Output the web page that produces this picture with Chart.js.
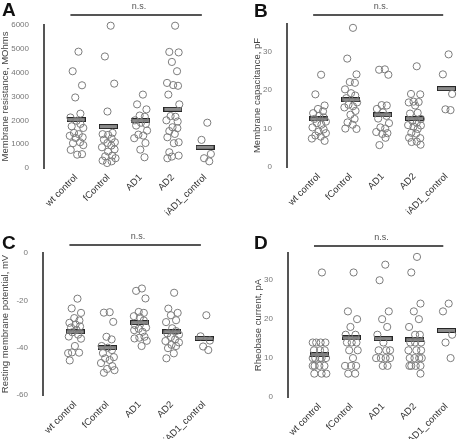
<!DOCTYPE html>
<html><head><meta charset="utf-8">
<script src="https://cdn.jsdelivr.net/npm/chart.js@4/dist/chart.umd.min.js"></script>
<style>
html,body{margin:0;padding:0;background:#fff;}
#wrap{position:relative;width:472px;height:439px;overflow:hidden;}
canvas{position:absolute;}
</style></head><body>
<div id="wrap">
<canvas id="cA" width="236" height="220" style="left:0;top:0"></canvas>
<canvas id="cB" width="236" height="220" style="left:236px;top:0"></canvas>
<canvas id="cC" width="236" height="219" style="left:0;top:220px"></canvas>
<canvas id="cD" width="236" height="219" style="left:236px;top:220px"></canvas>
</div>
<script>
const categories = ['wt control', 'fControl', 'AD1', 'AD2', 'iAD1_control'];

// A: membrane resistance (MOhms)
const resistance = [
  [4880, 4060, 3470, 2960, 2280, 2120, 1980, 1850, 1750, 1680, 1470, 1420, 1350, 1290, 1260, 1080, 1040, 960, 760, 580, 560],
  [5970, 4680, 3540, 2370, 1475, 1420, 1390, 1240, 1190, 1080, 1050, 940, 870, 780, 690, 520, 490, 410, 310, 280, 210],
  [3080, 2670, 2460, 2200, 2150, 2000, 1900, 1850, 1780, 1570, 1400, 1360, 1250, 1050, 770, 450],
  [5970, 4870, 4850, 4450, 4060, 3570, 3480, 3450, 3080, 2670, 2180, 2150, 2000, 1950, 1710, 1670, 1550, 1430, 1290, 1080, 1040, 660, 520, 480, 410],
  [1900, 1180, 590, 410, 280]
];
const resistanceMean = [2030, 1740, 1990, 2460, 870];

// B: membrane capacitance (pF)
const capacitance = [
  [24.0, 18.9, 16.0, 15.1, 14.5, 14.0, 13.3, 12.9, 12.5, 11.8, 11.4, 11.0, 10.3, 9.8, 9.2, 8.8, 8.2, 7.9, 7.4, 6.8],
  [36.2, 28.2, 24.1, 22.1, 21.9, 20.2, 19.2, 18.6, 17.9, 16.8, 16.2, 15.8, 15.5, 14.6, 13.6, 12.5, 11.6, 11.0, 10.0, 9.9],
  [25.4, 25.3, 24.0, 16.1, 16.0, 15.1, 14.2, 13.3, 12.6, 11.4, 10.3, 10.0, 9.1, 8.8, 8.6, 7.6, 5.7],
  [26.2, 19.0, 18.9, 17.0, 16.9, 16.8, 16.0, 14.1, 13.9, 12.5, 12.0, 11.5, 10.9, 10.8, 10.5, 9.9, 8.9, 8.7, 7.6, 7.5, 6.6, 6.5, 5.8],
  [29.3, 24.1, 19.0, 15.0, 14.8]
];
const capacitanceMean = [12.5, 17.5, 13.6, 12.6, 20.4];

// C: resting membrane potential (mV)
const potential = [
  [-19.3, -23.4, -25.3, -27.5, -28.5, -29.5, -30.2, -31.0, -31.5, -32.5, -33.5, -34.5, -35.3, -36.2, -39.3, -42.1, -42.0, -42.3, -45.4],
  [-25.0, -25.2, -29.1, -35.4, -36.5, -39.3, -40.0, -41.0, -42.3, -44.0, -44.5, -45.2, -46.5, -47.8, -49.0, -49.5, -50.6],
  [-15.0, -16.0, -19.2, -24.9, -25.3, -26.7, -27.2, -28.5, -30.5, -31.5, -32.0, -32.6, -33.3, -35.4, -35.8, -36.1, -37.1, -39.3],
  [-16.8, -23.5, -25.3, -26.3, -28.4, -29.2, -31.8, -33.0, -34.0, -34.5, -35.5, -36.5, -37.2, -37.8, -38.8, -39.3, -40.2, -42.4, -44.5],
  [-26.3, -35.2, -37.0, -39.5, -41.0]
];
const potentialMean = [-33.3, -40.0, -29.4, -33.3, -36.1];

// D: rheobase current (pA)
const rheobase = [
  [32, 14, 14, 14, 14, 12, 12, 12, 10, 10, 10, 10, 10, 8, 8, 8, 8, 6, 6, 6],
  [32, 22, 20, 18, 16, 16, 14, 14, 14, 12, 12, 10, 8, 8, 8, 6, 6],
  [34, 30, 22, 20, 18, 16, 14, 12, 12, 12, 10, 10, 10, 10, 8, 8],
  [36, 32, 24, 22, 20, 18, 16, 16, 14, 14, 14, 12, 12, 12, 10, 10, 10, 10, 8, 8, 8, 8, 6],
  [24, 22, 16, 14, 10]
];
const rheobaseMean = [10.9, 15.2, 15.0, 14.7, 17.1];

// deterministic dodge layout for the strip plot (horizontal placement only)
const prefs = [0.07, -0.11, 0.18, -0.03, 0.13, -0.18, 0.01, 0.1, -0.14, 0.2, -0.07, 0.05, -0.2, 0.15, -0.01, 0.12, -0.1, 0.06, -0.17, 0.18];
function strip(groups, pxPerY, pxPerX) {
  const out = [];
  groups.forEach((values, ci) => {
    const placed = [];
    values.forEach((v, i) => {
      const pref = prefs[i % prefs.length];
      let best = pref, bestCost = Infinity;
      for (let c = -0.22; c <= 0.2201; c += 0.01) {
        let cost = Math.abs(c - pref) * 3;
        for (const p of placed) {
          const d = Math.hypot((c - p.o) * pxPerX, (v - p.v) * pxPerY);
          if (d < 5) cost += (5 - d);
        }
        if (cost < bestCost) { bestCost = cost; best = c; }
      }
      placed.push({o: best, v: v});
      out.push({x: ci + 1 + best, y: v});
    });
  });
  return out;
}

function barImg() {
  const c = document.createElement('canvas');
  c.width = 19; c.height = 5;
  const g = c.getContext('2d');
  g.fillStyle = '#262626'; g.fillRect(0, 0, 19, 5);
  g.fillStyle = '#8a8a8a'; g.fillRect(1, 1, 17, 3);
  return c;
}
const BAR = barImg();

function deco(letter, lx, ly, lineOff) {
  return {
    id: 'deco',
    afterDraw(chart) {
      const ctx = chart.ctx, xs = chart.scales.x, top = chart.chartArea.top;
      const yL = top - lineOff;
      ctx.save();
      ctx.strokeStyle = '#555'; ctx.lineWidth = 2;
      ctx.beginPath();
      ctx.moveTo(xs.getPixelForValue(0.82), yL);
      ctx.lineTo(xs.getPixelForValue(4.9), yL);
      ctx.stroke();
      ctx.fillStyle = '#555';
      ctx.font = '9px "Liberation Sans", Arial, sans-serif';
      ctx.textAlign = 'center'; ctx.textBaseline = 'middle';
      ctx.fillText('n.s.', xs.getPixelForValue(2.95), yL - 8);
      ctx.fillStyle = '#111';
      ctx.font = 'bold 19px "Liberation Sans", Arial, sans-serif';
      ctx.textAlign = 'left'; ctx.textBaseline = 'alphabetic';
      ctx.fillText(letter, lx, ly);
      ctx.restore();
    }
  };
}

const FONT = '"Liberation Sans", Arial, sans-serif';

function makeChart(id, cfg) {
  const yRange = cfg.max - cfg.min;
  const pts = strip(cfg.groups, 143 / yRange, 34);
  const means = cfg.means.map((m, i) => ({x: i + 1, y: m}));
  return new Chart(document.getElementById(id), {
    type: 'scatter',
    data: {
      datasets: [
        {data: pts, pointRadius: 3.6, pointHoverRadius: 3.6, borderColor: '#7c7c7c', borderWidth: 1,
         backgroundColor: 'rgba(0,0,0,0)', pointBackgroundColor: 'rgba(0,0,0,0)', clip: false},
        {data: means, pointStyle: BAR, pointRadius: 9, clip: false}
      ]
    },
    options: {
      responsive: false, animation: false, devicePixelRatio: 1,
      layout: {padding: {left: cfg.padLeft, top: cfg.padTop, right: 0, bottom: 0}},
      plugins: {legend: {display: false}, tooltip: {enabled: false}},
      scales: {
        x: {
          type: 'linear', min: 0, max: cfg.xMax,
          grid: {display: false}, border: {display: false},
          afterBuildTicks: s => { s.ticks = categories.map((c, i) => ({value: i + 1})); },
          afterFit: s => { s.height = cfg.xHeight; },
          ticks: {
            autoSkip: false, minRotation: 45, maxRotation: 45, padding: -4,
            color: '#333', font: {family: FONT, size: 9.5},
            callback: v => categories[v - 1]
          }
        },
        y: {
          type: 'linear', min: cfg.min, max: cfg.max,
          grid: {display: false},
          border: {display: true, color: '#555', width: 2},
          afterFit: s => { s.width = cfg.yWidth; },
          title: {display: true, text: cfg.title, color: '#444', font: {family: FONT, size: 9.5}, padding: {top: 0, bottom: 0}},
          ticks: {stepSize: cfg.step, includeBounds: false, padding: 7, color: '#777', font: {family: FONT, size: 8},
                  callback: v => String(v)}
        }
      }
    },
    plugins: [deco(cfg.letter, cfg.lx, cfg.ly, cfg.lineOff)]
  });
}

makeChart('cA', {groups: resistance, means: resistanceMean, min: 0, max: 6000, step: 1000,
  title: 'Membrane resistance, MOhms', padLeft: 0, yWidth: 44, padTop: 25, xHeight: 52, xMax: 5.65,
  letter: 'A', lx: 2, ly: 16, lineOff: 10});
makeChart('cB', {groups: capacitance, means: capacitanceMean, min: 0, max: 37.2, step: 10,
  title: 'Membrane capacitance, pF', padLeft: 16, yWidth: 35, padTop: 24, xHeight: 53, xMax: 5.49,
  letter: 'B', lx: 18, ly: 17, lineOff: 9});
makeChart('cC', {groups: potential, means: potentialMean, min: -60, max: 0, step: 20,
  title: 'Resting membrane potential, mV', padLeft: 0, yWidth: 43, padTop: 33, xHeight: 44, xMax: 5.68,
  letter: 'C', lx: 2, ly: 29, lineOff: 8});
makeChart('cD', {groups: rheobase, means: rheobaseMean, min: 0, max: 37, step: 10,
  title: 'Rheobase current, pA', padLeft: 17, yWidth: 35, padTop: 33, xHeight: 42, xMax: 5.49,
  letter: 'D', lx: 18, ly: 29, lineOff: 7});
</script>
</body></html>
